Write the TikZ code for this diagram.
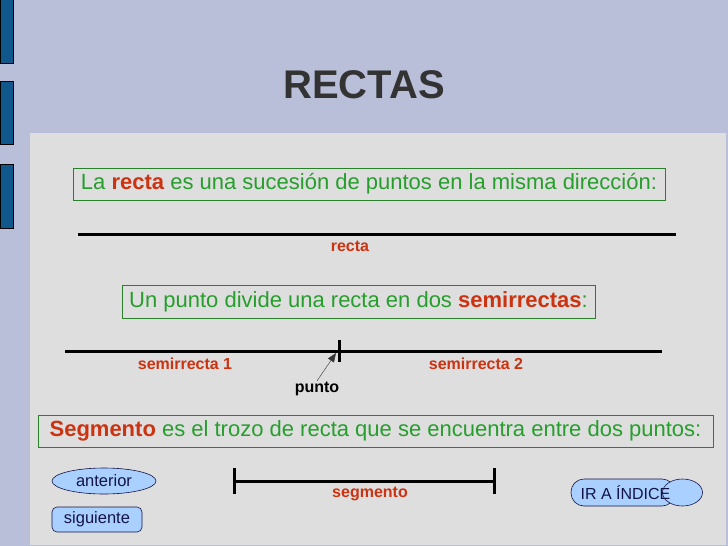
\documentclass[tikz,border=0pt]{standalone}
\usepackage{fontspec}
\setmainfont{Liberation Sans}
\usepackage{xcolor}
\usepackage{tikz}
\usetikzlibrary{arrows.meta, positioning, shapes.geometric}
\definecolor{fondo}{RGB}{185, 190, 217}
\definecolor{panel}{RGB}{222, 222, 222}
\definecolor{barra}{RGB}{16, 88, 140}
\definecolor{verde}{RGB}{38, 158, 44}
\definecolor{borde}{RGB}{40, 128, 40}
\definecolor{rojo}{RGB}{204, 51, 17}
\definecolor{celeste}{RGB}{170, 208, 255}
\definecolor{oscuro}{RGB}{51, 51, 51}
\definecolor{azul}{RGB}{20, 20, 70}

\begin{document}
\begin{tikzpicture}[
    x=1pt, y=-1pt,
    caja/.style={draw=borde, text=verde, inner sep=0pt,
                 font=\fontsize{22}{25}\selectfont},
    etiqueta/.style={text=rojo, inner sep=1pt, font=\fontsize{16}{19}\selectfont\bfseries},
    linea/.style={line width=3pt},
    boton/.style={draw=azul, semithick, fill=celeste, text=azul, inner sep=0pt,
                  font=\fontsize{16.5}{19}\selectfont}
  ]
    \useasboundingbox (0,0) rectangle (728,546);
    \fill[fondo] (0,0) rectangle (728,546);
    \foreach \ya/\yb in {-1/63, 81/144, 164/228}
      \draw[fill=barra] (0,\ya) rectangle (13,\yb);
    \fill[panel] (30,133) rectangle (726,545);
    \node[text=oscuro, font=\fontsize{40}{46}\selectfont\bfseries] (titulo) at (364,85) {RECTAS};

    % la recta
    \node[caja, minimum width=592, minimum height=32] (caja1) at (369,184)
      {La {\color{rojo}\bfseries recta} es una sucesión de puntos en la misma dirección:};
    \coordinate (r1) at (78,234);
    \coordinate (r2) at (676,234);
    \draw[linea] (r1) -- (r2);
    \node[etiqueta] (recta) at (350,246) {recta};

    % semirrectas
    \node[caja, minimum width=473, minimum height=33] (caja2) at (358.5,301.5)
      {Un punto divide una recta en dos {\color{rojo}\bfseries semirrectas}:};
    \coordinate (s1) at (65,351);
    \coordinate (s2) at (662,351);
    \coordinate (pa) at (339,340);
    \coordinate (pb) at (339,362);
    \coordinate (pc) at (336,353);
    \draw[linea] (s1) -- (s2);
    \draw[linea] (pa) -- (pb);
    \node[etiqueta] (semi1) at (185,364) {semirrecta 1};
    \node[etiqueta] (semi2) at (476,364) {semirrecta 2};
    \node[etiqueta, text=black] (punto) at (317,389) {punto};
    \draw[thin, gray!40!black, -{Triangle[length=9pt, width=7pt]}] (punto.north) -- (pc);

    % segmento
    \node[caja, minimum width=675, minimum height=32] (caja3) at (375.5,431)
      {{\color{rojo}\bfseries Segmento} es el trozo de recta que se encuentra entre dos puntos:};
    \coordinate (g1) at (234,481);
    \coordinate (g2) at (494,481);
    \draw[linea] (g1) -- (g2);
    \draw[linea] ([yshift=-13pt]g1) -- ([yshift=13pt]g1);
    \draw[linea] ([yshift=-13pt]g2) -- ([yshift=13pt]g2);
    \node[etiqueta] (segmento) at (370,494) {segmento};

    % botones
    \node[boton, ellipse, minimum width=104, minimum height=26] (anterior) at (104,481) {anterior};
    \node[boton, rounded corners=5pt, minimum width=90, minimum height=25] (siguiente) at (97,519.5) {siguiente};
    \node[boton, rounded corners=13pt, minimum width=104, minimum height=27] (indice) at (623,492.5) {};
    \node[boton, ellipse, minimum width=40, minimum height=27] (indiceb) at (682.5,492.5) {};
    \node[text=azul, font=\fontsize{16}{19}\selectfont] (indicet) at (625.5,493) {IR A ÍNDICE};
  \end{tikzpicture}
\end{document}
